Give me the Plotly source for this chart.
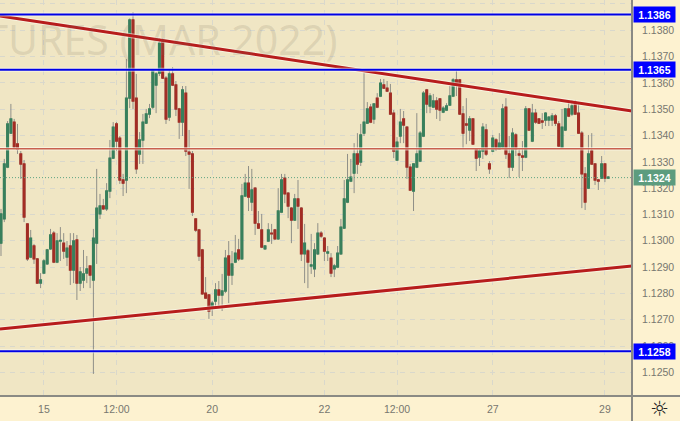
import plotly.graph_objects as go

# hourly-ish candles
opens = [1.12991,1.13083,1.13280,1.13409,1.13451,1.13368,1.13330,1.13292,1.13064,1.12938,
         1.12980,1.12931,1.12839,1.12877,1.12912,1.12969,1.13029,1.12919,1.12999,1.12991,
         1.12938,1.12980,1.12889,1.13003,1.12839,1.12851,1.12877,1.12904,1.12851,1.12991,
         1.13102,1.13132,1.13121,1.13189,1.13314,1.13444,1.13390,1.13231,1.13231,1.13542,
         1.13839,1.13542,1.13330,1.13383,1.13447,1.13482,1.13508,1.13592,1.13637,1.13763,
         1.13618,1.13470,1.13634,1.13592,1.13501,1.13451,1.13561,1.13337,1.13330,1.13083,
         1.13041,1.12965,1.12801,1.12794,1.12748,1.12771,1.12813,1.12794,1.12809,1.12942,
         1.12870,1.12919,1.12965,1.12931,1.13170,1.13219,1.13147,1.13200,1.13064,1.13041,
         1.12969,1.12999,1.13029,1.13041,1.13007,1.13109,1.13238,1.13181,1.13124,1.13079,
         1.13159,1.13124,1.12950,1.12961,1.12904,1.12893,1.12950,1.13029,1.13010,1.12953,
         1.12934,1.12893,1.12900,1.12950,1.13048,1.13147,1.13227,1.13257,1.13330,1.13299,
         1.13409,1.13447,1.13508,1.13463,1.13542,1.13550,1.13592,1.13580,1.13561,1.13485,
         1.13307,1.13398,1.13463,1.13432,1.13280,1.13189,1.13280,1.13303,1.13398,1.13573,
         1.13512,1.13508,1.13531,1.13539,1.13489,1.13497,1.13516,1.13550,1.13611,1.13611,
         1.13482,1.13444,1.13421,1.13463,1.13349,1.13318,1.13341,1.13421,1.13292,1.13341,
         1.13383,1.13349,1.13356,1.13508,1.13330,1.13280,1.13402,1.13330,1.13322,1.13318,
         1.13501,1.13379,1.13485,1.13463,1.13455,1.13459,1.13459,1.13459,1.13474,1.13444,
         1.13356,1.13421,1.13501,1.13482,1.13527,1.13485,1.13409,1.13254,1.13200,1.13341,
         1.13292,1.13231,1.13238,1.13292,1.13238]
highs = [1.13121,1.13311,1.13455,1.13520,1.13463,1.13444,1.13341,1.13307,1.13067,1.13041,
         1.12988,1.12934,1.12877,1.12931,1.12969,1.13045,1.13037,1.13029,1.13052,1.13029,
         1.12999,1.13029,1.13029,1.13022,1.12900,1.12965,1.12942,1.12904,1.13045,1.13273,
         1.13178,1.13159,1.13219,1.13383,1.13451,1.13451,1.13398,1.13254,1.13691,1.13845,
         1.13869,1.13634,1.13413,1.13482,1.13501,1.13520,1.13653,1.13641,1.13770,1.13770,
         1.13626,1.13653,1.13660,1.13607,1.13505,1.13588,1.13588,1.13421,1.13341,1.13086,
         1.13045,1.12969,1.12862,1.12798,1.12771,1.12839,1.12847,1.12874,1.12965,1.12999,
         1.12961,1.13022,1.13007,1.13216,1.13254,1.13284,1.13273,1.13204,1.13113,1.13102,
         1.12984,1.13067,1.13064,1.13045,1.13200,1.13254,1.13254,1.13185,1.13128,1.13178,
         1.13231,1.13128,1.13064,1.12969,1.13026,1.12991,1.13067,1.13037,1.13014,1.12980,
         1.12953,1.12912,1.12980,1.13083,1.13231,1.13330,1.13311,1.13371,1.13409,1.13444,
         1.13637,1.13527,1.13520,1.13523,1.13561,1.13615,1.13615,1.13607,1.13596,1.13497,
         1.13394,1.13501,1.13493,1.13436,1.13292,1.13295,1.13485,1.13417,1.13569,1.13577,
         1.13561,1.13558,1.13546,1.13542,1.13512,1.13523,1.13588,1.13618,1.13645,1.13615,
         1.13512,1.13542,1.13474,1.13466,1.13352,1.13352,1.13447,1.13444,1.13303,1.13402,
         1.13390,1.13409,1.13520,1.13542,1.13398,1.13428,1.13409,1.13349,1.13379,1.13512,
         1.13504,1.13520,1.13501,1.13466,1.13485,1.13489,1.13474,1.13485,1.13482,1.13455,
         1.13501,1.13504,1.13535,1.13535,1.13535,1.13523,1.13417,1.13280,1.13402,1.13409,
         1.13295,1.13235,1.13322,1.13295,1.13246]
lows = [1.12942,1.13071,1.13276,1.13406,1.13349,1.13330,1.13235,1.13071,1.12923,1.12934,
        1.12912,1.12836,1.12820,1.12874,1.12908,1.12965,1.12915,1.12915,1.12923,1.12931,
        1.12904,1.12832,1.12839,1.12775,1.12809,1.12820,1.12839,1.12820,1.12494,1.12912,
        1.13083,1.13117,1.13113,1.13162,1.13311,1.13341,1.13216,1.13170,1.13181,1.13504,
        1.13501,1.13254,1.13292,1.13292,1.13444,1.13466,1.13501,1.13485,1.13626,1.13618,
        1.13444,1.13455,1.13588,1.13474,1.13387,1.13398,1.13322,1.13197,1.13094,1.13033,
        1.12923,1.12794,1.12779,1.12703,1.12714,1.12741,1.12752,1.12733,1.12801,1.12763,
        1.12832,1.12915,1.12923,1.12927,1.13166,1.13113,1.13113,1.13022,1.13045,1.12972,
        1.12965,1.12995,1.12988,1.13003,1.13003,1.13105,1.13143,1.13086,1.12991,1.13075,
        1.13045,1.12923,1.12839,1.12820,1.12874,1.12862,1.12946,1.13010,1.12923,1.12923,
        1.12862,1.12862,1.12896,1.12946,1.13045,1.13143,1.13223,1.13181,1.13254,1.13284,
        1.13398,1.13444,1.13447,1.13444,1.13504,1.13546,1.13577,1.13565,1.13478,1.13314,
        1.13303,1.13371,1.13371,1.13235,1.13189,1.13113,1.13276,1.13299,1.13394,1.13485,
        1.13485,1.13504,1.13463,1.13455,1.13485,1.13493,1.13512,1.13546,1.13550,1.13478,
        1.13352,1.13367,1.13379,1.13364,1.13265,1.13284,1.13311,1.13322,1.13254,1.13337,
        1.13341,1.13345,1.13352,1.13311,1.13238,1.13265,1.13322,1.13242,1.13265,1.13314,
        1.13417,1.13375,1.13444,1.13444,1.13425,1.13436,1.13436,1.13436,1.13436,1.13356,
        1.13352,1.13417,1.13470,1.13474,1.13478,1.13406,1.13124,1.13117,1.13197,1.13288,
        1.13212,1.13193,1.13235,1.13223,1.13235]
closes = [1.13102,1.13292,1.13444,1.13463,1.13356,1.13349,1.13292,1.13090,1.12931,1.13010,
          1.12931,1.12839,1.12851,1.12923,1.12965,1.13022,1.12919,1.12999,1.13001,1.12961,
          1.12972,1.12889,1.12999,1.12839,1.12881,1.12874,1.12893,1.12870,1.13010,1.13124,
          1.13132,1.13121,1.13189,1.13314,1.13432,1.13379,1.13231,1.13219,1.13542,1.13839,
          1.13531,1.13273,1.13383,1.13451,1.13482,1.13501,1.13645,1.13634,1.13751,1.13618,
          1.13463,1.13634,1.13592,1.13501,1.13451,1.13573,1.13341,1.13330,1.13109,1.13041,
          1.12942,1.12798,1.12782,1.12733,1.12763,1.12813,1.12794,1.12809,1.12934,1.12870,
          1.12912,1.12953,1.12931,1.13170,1.13219,1.13166,1.13193,1.13067,1.13048,1.12976,
          1.12980,1.13041,1.13026,1.13007,1.13113,1.13231,1.13178,1.13132,1.13079,1.13159,
          1.13132,1.12950,1.12991,1.12919,1.12908,1.12965,1.13029,1.13018,1.12961,1.12957,
          1.12877,1.12904,1.12953,1.13052,1.13159,1.13231,1.13242,1.13330,1.13292,1.13402,
          1.13451,1.13501,1.13451,1.13520,1.13508,1.13599,1.13580,1.13569,1.13482,1.13341,
          1.13375,1.13451,1.13440,1.13280,1.13193,1.13292,1.13330,1.13409,1.13561,1.13520,
          1.13550,1.13531,1.13501,1.13497,1.13504,1.13512,1.13550,1.13611,1.13592,1.13482,
          1.13409,1.13440,1.13463,1.13368,1.13314,1.13341,1.13432,1.13330,1.13273,1.13390,
          1.13349,1.13371,1.13501,1.13330,1.13280,1.13409,1.13349,1.13326,1.13318,1.13501,
          1.13421,1.13485,1.13451,1.13447,1.13451,1.13485,1.13470,1.13474,1.13447,1.13360,
          1.13432,1.13501,1.13474,1.13512,1.13482,1.13409,1.13254,1.13147,1.13330,1.13292,
          1.13231,1.13227,1.13292,1.13238,1.13242]

tick_idx = [13, 35, 64, 98, 120, 149, 183]
tick_text = ["15", "12:00", "20", "22", "12:00", "27", "29"]
price_ticks = [1.125, 1.126, 1.127, 1.128, 1.129, 1.130, 1.131, 1.132, 1.133, 1.134,
               1.135, 1.136, 1.137, 1.138, 1.139]

blue_levels = [1.1386, 1.1365, 1.1258]
red_level = 1.1335
last_price = 1.1324
upper_trend = [1.13854, 1.13493]
lower_trend = [1.12665, 1.12904]

x_range = [-0.3, 191.2]
y_range = [1.12410, 1.13915]

BG = "#f0e6c4"
PANEL = "#fdf2d0"
GREEN = "#38805c"
RED = "#a32d24"
AXIS = "#8a8a84"
TEXT = "#77776f"
HALO = "rgba(255,255,245,0.55)"

xs = list(range(len(opens)))
body_hi = [max(o, c) for o, c in zip(opens, closes)]
body_lo = [min(o, c) for o, c in zip(opens, closes)]

fig = go.Figure()


def add_line(y_vals, color, width, halo=True, dash=None):
    if halo:
        fig.add_trace(go.Scatter(x=x_range, y=y_vals, mode="lines", hoverinfo="skip",
                                 line=dict(color=HALO, width=width + 2)))
    fig.add_trace(go.Scatter(x=x_range, y=y_vals, mode="lines", hoverinfo="skip",
                             line=dict(color=color, width=width, dash=dash)))


# wicks are grey, bodies get their own trace on top
fig.add_trace(go.Candlestick(x=xs, open=opens, high=highs, low=lows, close=closes,
                             increasing=dict(line=dict(color="#8f8f88", width=1), fillcolor="#8f8f88"),
                             decreasing=dict(line=dict(color="#8f8f88", width=1), fillcolor="#8f8f88"),
                             whiskerwidth=0, hoverinfo="skip"))
fig.add_trace(go.Candlestick(x=xs, open=opens, high=body_hi, low=body_lo, close=closes,
                             increasing=dict(line=dict(color=GREEN, width=1.4), fillcolor=GREEN),
                             decreasing=dict(line=dict(color=RED, width=1.4), fillcolor=RED),
                             whiskerwidth=0, hoverinfo="skip"))

add_line(upper_trend, "#b71c1c", 3)
add_line(lower_trend, "#b71c1c", 3)
for lvl in blue_levels:
    add_line([lvl, lvl], "#0000e6", 2)
add_line([red_level, red_level], "#c8604f", 1.5)
add_line([last_price, last_price], "#5fa583", 1, halo=False, dash="1px,2px")

# faint contract name behind the candles, cut off by the left edge
fig.add_annotation(xref="paper", yref="paper", x=339 / 632, y=0.902, xanchor="right", yanchor="middle",
                   text="FUTURES (MAR 2022)", showarrow=False,
                   font=dict(family="Noto Sans", size=41, color="rgba(120,110,90,0.17)"))

# price labels on the right scale
for lvl in blue_levels:
    fig.add_annotation(xref="paper", yref="y", x=1.0015, y=lvl, xanchor="left", yanchor="middle",
                       text="<b>%.4f</b>" % lvl, showarrow=False, bgcolor="#0000ff", borderpad=2, width=37, height=11,
                       font=dict(family="Liberation Sans", size=10.5, color="white"))
fig.add_annotation(xref="paper", yref="y", x=1.0015, y=last_price, xanchor="left", yanchor="middle",
                   text="<b>%.4f</b>" % last_price, showarrow=False, bgcolor="#5c9c7e", borderpad=2, width=37, height=11,
                   font=dict(family="Liberation Sans", size=10.5, color="white"))

# settings glyph in the corner
fig.add_annotation(xref="paper", yref="paper", x=659 / 632, y=-13 / 396, xanchor="center", yanchor="middle",
                   text="☼", showarrow=False, font=dict(family="DejaVu Sans", size=21, color="#222222"))

# scale separators
fig.add_shape(type="line", xref="paper", yref="paper", x0=1, x1=1, y0=-25 / 396, y1=1, line=dict(color=AXIS, width=2))
fig.add_shape(type="line", xref="paper", yref="paper", x0=0, x1=680 / 632, y0=0, y1=0, line=dict(color=AXIS, width=2))

fig.update_layout(width=680, height=421, margin=dict(l=0, r=48, t=0, b=25),
                  paper_bgcolor=PANEL, plot_bgcolor=BG, showlegend=False,
                  font=dict(family="Liberation Sans", size=10.5, color=TEXT))
fig.update_xaxes(range=x_range, rangeslider_visible=False, tickmode="array", tickvals=tick_idx, ticktext=tick_text,
                 showgrid=True, gridcolor="#d9d8cc", griddash="5px,5px", gridwidth=1, zeroline=False,
                 ticks="outside", ticklen=3, tickcolor=PANEL)
fig.update_yaxes(range=y_range, side="right", tickmode="array", tickvals=price_ticks,
                 ticktext=["%.4f" % p for p in price_ticks],
                 showgrid=True, gridcolor="#d9d8cc", griddash="5px,5px", gridwidth=1, zeroline=False,
                 ticks="outside", ticklen=7, tickcolor=PANEL)

# the browser's default body margin would push the chart 8px in
fig.write_html("out.html", config=dict(displayModeBar=False),
               post_script="document.body.style.margin='0';document.body.style.overflow='hidden';")
